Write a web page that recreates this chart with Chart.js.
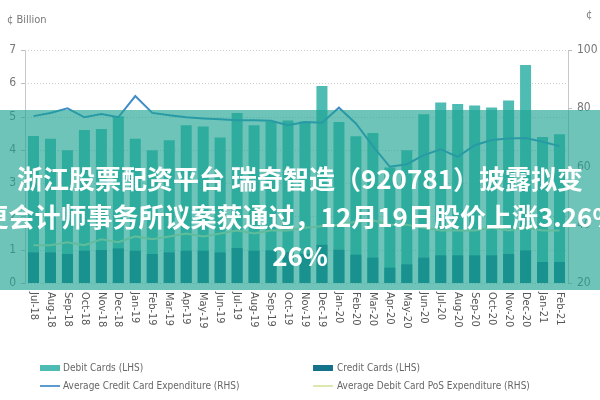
<!DOCTYPE html>
<html><head><meta charset="utf-8">
<script src="https://cdn.jsdelivr.net/npm/chart.js@4"></script>
<style>
html,body{margin:0;padding:0;background:#fff;}
#wrap{position:relative;width:600px;height:400px;overflow:hidden;background:#fff;}
#c{position:absolute;left:0;top:0;}
.txt{position:absolute;font:11px 'Liberation Sans Narrow','DejaVu Sans Condensed',sans-serif;color:#777;white-space:nowrap;}
.lg{position:absolute;font:10px 'Liberation Sans Narrow','DejaVu Sans Condensed',sans-serif;color:#666;white-space:nowrap;line-height:12px;}
.sw{position:absolute;}
#banner{position:absolute;left:0;top:110px;width:600px;height:180px;background:rgba(28,163,146,0.64);}
.bl{position:absolute;left:-200px;width:1000px;text-align:center;color:#fff;font:bold 26px 'Noto Sans CJK SC',sans-serif;white-space:nowrap;height:39px;line-height:39px;}
</style></head>
<body>
<div id="wrap">
<canvas id="c" width="600" height="400"></canvas>
<div class="txt" style="left:7px;top:13px;">¢ Billion</div>
<div class="txt" style="left:586px;top:8px;">¢</div>
<div class="sw" style="left:40px;top:365px;width:20px;height:6px;background:#4fbcb3"></div>
<div class="lg" style="left:63px;top:362px;">Debit Cards (LHS)</div>
<div class="sw" style="left:313px;top:365px;width:20px;height:6px;background:#14728a"></div>
<div class="lg" style="left:337px;top:362px;">Credit Cards (LHS)</div>
<div class="sw" style="left:40px;top:385px;width:20px;height:2px;background:#5b9bd0"></div>
<div class="lg" style="left:63px;top:380px;">Average Credit Card Expenditure (RHS)</div>
<div class="sw" style="left:313px;top:385px;width:20px;height:2px;background:#dbe9b0"></div>
<div class="lg" style="left:337px;top:380px;">Average Debit Card PoS Expenditure (RHS)</div>
<div id="banner">
<div class="bl" style="top:48px;">浙江股票配资平台 瑞奇智造（920781）披露拟变</div>
<div class="bl" style="top:86px;">更会计师事务所议案获通过，12月19日股价上涨3.26%</div>
<div class="bl" style="top:125px;">26%</div>
</div>
</div>
<script>
const categories = ['Jul-18','Aug-18','Sep-18','Oct-18','Nov-18','Dec-18',
  'Jan-19','Feb-19','Mar-19','Apr-19','May-19','Jun-19','Jul-19','Aug-19','Sep-19','Oct-19','Nov-19','Dec-19',
  'Jan-20','Feb-20','Mar-20','Apr-20','May-20','Jun-20','Jul-20','Aug-20','Sep-20','Oct-20','Nov-20','Dec-20',
  'Jan-21','Feb-21'];
const debitCards = [4.42,4.33,3.99,4.60,4.63,5.01,4.33,3.99,4.29,4.74,4.70,4.37,5.11,4.74,4.85,4.88,4.85,5.92,
  4.84,4.41,4.51,3.47,3.99,5.07,5.42,5.38,5.33,5.27,5.48,6.55,4.39,4.47];
const creditCards = [0.92,0.92,0.87,0.97,0.99,1.04,0.97,0.87,0.92,0.97,0.97,0.92,1.05,0.97,0.98,0.93,0.88,1.15,
  1.00,0.85,0.76,0.46,0.56,0.76,0.83,0.83,0.83,0.83,0.87,0.98,0.63,0.63];
const avgCreditExp = [77.3,78.4,80.0,76.9,78.0,76.9,84.2,78.4,77.6,76.9,76.5,76.2,75.9,75.9,75.7,74.2,75.3,75.0,
  80.2,74.8,67.0,59.9,60.8,63.9,65.9,63.3,67.3,69.1,69.6,69.8,68.5,67.0];
const avgDebitPosExp = [33,33,34,33,35,34,36,35,36,37,36,37,38,37,38,38,39,39.5,
  40,41,41.5,40,40,39,38,38,38,39,38,39,38,38];
const leftTicks = [0,1,2,3,4,5,6,7];
const rightTicks = [20,40,60,80,100];

const FONT = "'Liberation Sans Narrow','DejaVu Sans Condensed',sans-serif";

const customDraw = {
  id: 'customDraw',
  beforeDatasetsDraw(chart) {
    const {ctx, chartArea: a, scales: {y, y1}} = chart;
    ctx.save();
    ctx.strokeStyle = '#cfcfcf';
    ctx.lineWidth = 1;
    ctx.setLineDash([1, 2]);
    leftTicks.forEach(v => {
      const py = Math.round(y.getPixelForValue(v)) + 0.5;
      ctx.beginPath(); ctx.moveTo(a.left, py); ctx.lineTo(a.right, py); ctx.stroke();
    });
    ctx.setLineDash([]);
    ctx.strokeStyle = '#bdbdbd';
    leftTicks.forEach(v => {
      const py = Math.round(y.getPixelForValue(v)) + 0.5;
      ctx.beginPath(); ctx.moveTo(a.left - 4, py); ctx.lineTo(a.left, py); ctx.stroke();
    });
    rightTicks.forEach(v => {
      const py = Math.round(y1.getPixelForValue(v)) + 0.5;
      ctx.beginPath(); ctx.moveTo(a.right, py); ctx.lineTo(a.right + 4, py); ctx.stroke();
    });
    ctx.restore();
  },
  afterDraw(chart) {
    const {ctx, chartArea: a, scales: {x}} = chart;
    ctx.save();
    ctx.fillStyle = '#555';
    ctx.font = '11px ' + FONT;
    ctx.textAlign = 'left';
    ctx.textBaseline = 'middle';
    categories.forEach((lab, i) => {
      const px = x.getPixelForValue(i);
      ctx.save();
      ctx.translate(px, a.bottom + 9);
      ctx.rotate(Math.PI / 2);
      ctx.fillText(lab, 0, 0);
      ctx.restore();
    });
    ctx.restore();
  }
};

new Chart(document.getElementById('c'), {
  type: 'bar',
  data: {
    labels: categories,
    datasets: [
      {type:'line', label:'Average Credit Card Expenditure (RHS)', data: avgCreditExp, yAxisID:'y1',
       borderColor:'#3f8cc6', borderWidth:2, pointRadius:0, tension:0, order:0},
      {type:'line', label:'Average Debit Card PoS Expenditure (RHS)', data: avgDebitPosExp, yAxisID:'y1',
       borderColor:'#dbe9b0', borderWidth:2, pointRadius:0, tension:0, order:0},
      {label:'Credit Cards (LHS)', data: creditCards, yAxisID:'y', backgroundColor:'#14728a',
       categoryPercentage:1, barPercentage:0.65, order:1},
      {label:'Debit Cards (LHS)', data: debitCards, yAxisID:'y', backgroundColor:'#4fbcb3',
       categoryPercentage:1, barPercentage:0.65, order:2}
    ]
  },
  options: {
    responsive:false, animation:false, devicePixelRatio:1,
    layout:{padding:{top:50,left:0,right:0,bottom:0}},
    plugins:{legend:{display:false}, tooltip:{enabled:false}},
    scales:{
      x:{stacked:true, grid:{display:false, drawTicks:false}, border:{display:false}, ticks:{display:false},
         afterFit(s){ s.height = 117; }},
      y:{position:'left', min:0, max:7, stacked:false, ticks:{stepSize:1, padding:9, color:'#777', font:{family:FONT, size:12}},
         grid:{display:false, drawTicks:false}, border:{display:true, color:'#c8c8c8'},
         afterFit(s){ s.width = 25; }},
      y1:{position:'right', min:20, max:100, ticks:{stepSize:20, padding:9, color:'#777', font:{family:FONT, size:12}},
         grid:{display:false, drawTicks:false}, border:{display:true, color:'#c8c8c8'},
         afterFit(s){ s.width = 32; }}
    }
  },
  plugins:[customDraw]
});
</script>
</body></html>
